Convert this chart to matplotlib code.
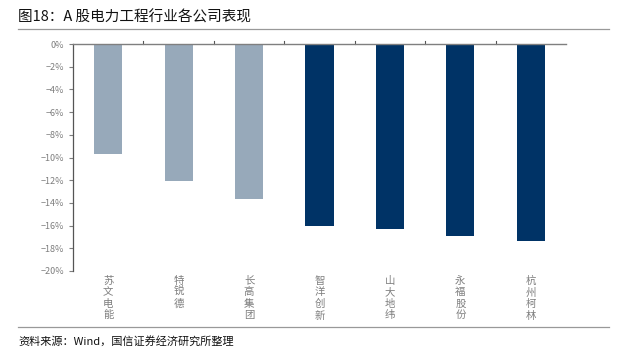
import matplotlib

matplotlib.use("Agg")
import matplotlib.pyplot as plt
from matplotlib.lines import Line2D
from matplotlib.ticker import FuncFormatter

plt.rcParams["font.family"] = ["Noto Sans CJK SC", "DejaVu Sans"]

COMPANIES = ["苏文电能", "特锐德", "长高集团", "智洋创新", "山大地纬", "永福股份", "杭州柯林"]
RETURNS = [-9.7, -12.1, -13.7, -16.0, -16.3, -16.9, -17.4]
IS_DARK = [False, False, False, True, True, True, True]

LIGHT = "#97A9BA"
DARK = "#003366"
GREY = "#7f7f7f"

fig = plt.figure(figsize=(6.23, 3.54), dpi=100)
ax = fig.add_axes([73 / 623, 1 - 271 / 354, 493 / 623, 227 / 354])

x = list(range(len(COMPANIES)))
colors = [DARK if d else LIGHT for d in IS_DARK]
ax.bar(x, RETURNS, width=0.4, color=colors, zorder=2)

ax.set_xlim(-0.5, len(COMPANIES) - 0.5)
ax.set_ylim(-20, 0)
ax.set_yticks(range(-20, 1, 2))
ax.yaxis.set_major_formatter(FuncFormatter(lambda v, _: f"{v:.0f}%".replace("-", "−")))
ax.tick_params(axis="y", labelsize=6.5, colors=GREY, labelcolor=GREY, length=3, width=0.8)

for s in ["right", "bottom"]:
    ax.spines[s].set_visible(False)
ax.spines["left"].set_color("#555555")
ax.spines["left"].set_linewidth(0.9)
ax.spines["top"].set_color(GREY)
ax.spines["top"].set_linewidth(1.0)

# category separators on the zero line (ticks pointing up)
ax.set_xticks([])
for b in range(1, len(COMPANIES)):
    ax.plot([b - 0.5, b - 0.5], [0, 0.25], color="#555555", lw=0.8, clip_on=False)

for i, name in enumerate(COMPANIES):
    ax.text(i, -20.4, "\n".join(name), ha="center", va="top", fontsize=7.5,
            color=GREY, linespacing=1.2)

fig.text(18 / 623, 1 - 17 / 354, "图18：A 股电力工程行业各公司表现", fontsize=10.5,
         va="center", ha="left", color="#111111")
fig.add_artist(Line2D([18 / 623, 609 / 623], [1 - 29 / 354, 1 - 29 / 354], color="#999999", lw=0.9))
fig.add_artist(Line2D([18 / 623, 609 / 623], [1 - 327 / 354, 1 - 327 / 354], color="#999999", lw=0.9))
fig.text(18 / 623, 1 - 341 / 354, "资料来源：Wind，国信证券经济研究所整理", fontsize=8,
         va="center", ha="left", color="#111111")

fig.savefig("out.png", dpi=100)
